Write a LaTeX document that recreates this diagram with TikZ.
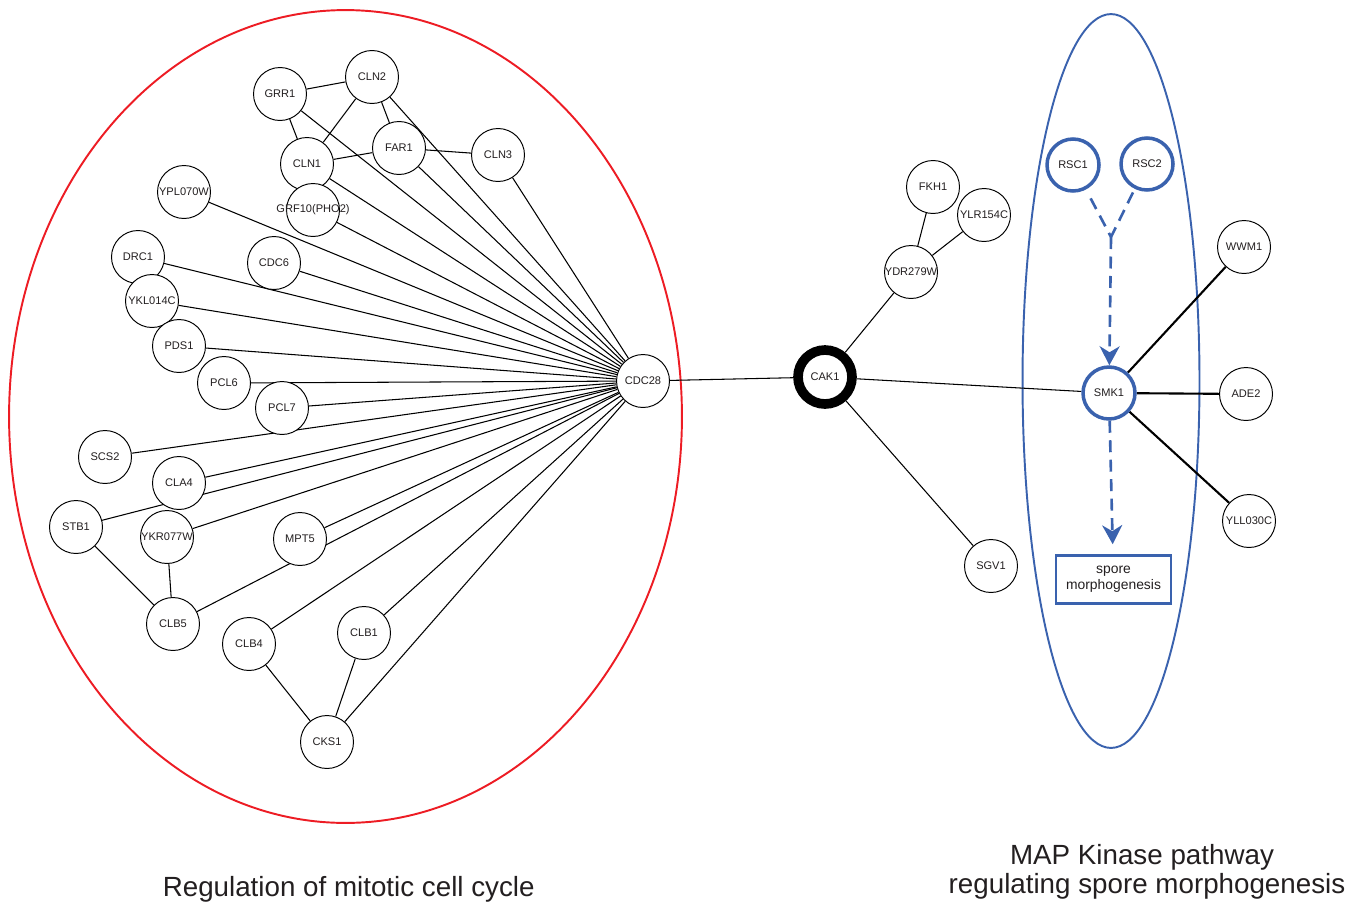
\documentclass[tikz,border=0pt]{standalone}
\usepackage{fontspec}
\setmainfont{Liberation Sans}
\usetikzlibrary{arrows.meta,backgrounds}
\definecolor{pathblue}{RGB}{58,98,174}
\definecolor{cycred}{RGB}{237,28,36}
\definecolor{labelgray}{RGB}{35,31,32}

\begin{document}
\begin{tikzpicture}[x=0.02cm, y=-0.02cm,
    protein/.style={circle, draw=black, fill=white, line width=0.55pt, minimum size=1.06cm, inner sep=0pt, text=labelgray, font=\fontsize{6.3}{7}\selectfont},
    kinase/.style={protein, draw=pathblue, line width=2pt, minimum size=1.04cm},
    link/.style={draw=black, line width=0.6pt},
    strong/.style={draw=black, line width=1.2pt},
    flow/.style={draw=pathblue, line width=1.5pt, dash pattern=on 0.24cm off 0.15cm},
    heading/.style={anchor=base, text=labelgray, font=\fontsize{15.8}{19}\selectfont}]
            \useasboundingbox (0,0) rectangle (1364,903);

            \node[protein] (GRR1) at (280,94) {GRR1};
            \node[protein] (CLN2) at (372,77) {CLN2};
            \node[protein] (FAR1) at (399,148) {FAR1};
            \node[protein] (CLN3) at (498,155) {CLN3};
            \node[protein] (CLN1) at (307,164) {CLN1};
            \node[protein] (GRF10) at (313,210) {\makebox[0pt]{GRF10(PHO2)}};
            \node[protein] (YPL070W) at (184,192) {YPL070W};
            \node[protein] (DRC1) at (138,257) {DRC1};
            \node[protein] (CDC6) at (274,263) {CDC6};
            \node[protein] (YKL014C) at (152,301) {YKL014C};
            \node[protein] (PDS1) at (179,346) {PDS1};
            \node[protein] (PCL6) at (224,383) {PCL6};
            \node[protein] (PCL7) at (282,408) {PCL7};
            \node[protein] (SCS2) at (105,457) {SCS2};
            \node[protein] (CLA4) at (179,483) {CLA4};
            \node[protein] (STB1) at (76,527) {STB1};
            \node[protein] (YKR077W) at (167,537) {YKR077W};
            \node[protein] (MPT5) at (300,539) {MPT5};
            \node[protein] (CLB5) at (173,624) {CLB5};
            \node[protein] (CLB4) at (249,644) {CLB4};
            \node[protein] (CLB1) at (364,633) {CLB1};
            \node[protein] (CKS1) at (327,742) {CKS1};
            \node[protein] (CDC28) at (643,381) {CDC28};

            \node[protein, line width=5.5pt, minimum size=1.08cm] (CAK1) at (825,377) {CAK1};
            \node[protein] (FKH1) at (933,187) {FKH1};
            \node[protein] (YLR154C) at (984,215) {YLR154C};
            \node[protein] (YDR279W) at (911,272) {YDR279W};
            \node[protein] (SGV1) at (991,566) {SGV1};

            \node[kinase] (RSC1) at (1073,165) {RSC1};
            \node[kinase] (RSC2) at (1147,164) {RSC2};
            \node[kinase] (SMK1) at (1109,393) {SMK1};
            \node[protein] (WWM1) at (1244,247) {WWM1};
            \node[protein] (ADE2) at (1246,394) {ADE2};
            \node[protein] (YLL030C) at (1249,521) {YLL030C};
            \node[draw=pathblue, line width=1.5pt, minimum width=2.3cm, minimum height=0.96cm, align=center, text=labelgray, font=\fontsize{7.9}{8.9}\selectfont] (spore) at (1113.5,579.5) {spore\\morphogenesis};
            \coordinate (junc) at (1111,237);

            \node[heading] (cycletitle) at (348.7,896) {Regulation of mitotic cell cycle};
            \node[heading] (maptitle) at (1142,864.3) {MAP Kinase pathway};
            \node[heading] (maptitle2) at (1147,893.3) {regulating spore morphogenesis};

            \begin{pgfonlayer}{background}
            \draw[draw=cycred, line width=1.1pt] (345.5,416.5) ellipse [x radius=6.73cm, y radius=8.13cm];
            \draw[draw=pathblue, line width=1.1pt] (1111,381) ellipse [x radius=1.77cm, y radius=7.34cm];

            \draw[link] (GRR1) -- (CLN2);
            \draw[link] (GRR1) -- (CLN1);
            \draw[link] (CLN2) -- (CLN1);
            \draw[link] (CLN2) -- (FAR1);
            \draw[link] (CLN1) -- (FAR1);
            \draw[link] (FAR1) -- (CLN3);
            \draw[link] (STB1) -- (CLB5);
            \draw[link] (YKR077W) -- (CLB5);
            \draw[link] (CLB4) -- (CKS1);
            \draw[link] (CLB1) -- (CKS1);

            \draw[link] (GRR1) -- (CDC28);
            \draw[link] (CLN2) -- (CDC28);
            \draw[link] (FAR1) -- (CDC28);
            \draw[link] (CLN3) -- (CDC28);
            \draw[link] (CLN1) -- (CDC28);
            \draw[link] (GRF10) -- (CDC28);
            \draw[link] (YPL070W) -- (CDC28);
            \draw[link] (DRC1) -- (CDC28);
            \draw[link] (CDC6) -- (CDC28);
            \draw[link] (YKL014C) -- (CDC28);
            \draw[link] (PDS1) -- (CDC28);
            \draw[link] (PCL6) -- (CDC28);
            \draw[link] (PCL7) -- (CDC28);
            \draw[link] (SCS2) -- (CDC28);
            \draw[link] (CLA4) -- (CDC28);
            \draw[link] (STB1) -- (CDC28);
            \draw[link] (YKR077W) -- (CDC28);
            \draw[link] (MPT5) -- (CDC28);
            \draw[link] (CLB5) -- (CDC28);
            \draw[link] (CLB4) -- (CDC28);
            \draw[link] (CLB1) -- (CDC28);
            \draw[link] (CKS1) -- (CDC28);

            \draw[link] (CDC28) -- (CAK1);
            \draw[link] (CAK1) -- (YDR279W);
            \draw[link] (YDR279W) -- (FKH1);
            \draw[link] (YDR279W) -- (YLR154C);
            \draw[link] (CAK1) -- (SGV1);
            \draw[link] (CAK1) -- (SMK1);

            \draw[strong] (SMK1) -- (WWM1);
            \draw[strong] (SMK1) -- (ADE2);
            \draw[strong] (SMK1) -- (YLL030C);
            \end{pgfonlayer}

            \draw[flow, shorten <=0.2cm] (RSC1) -- (junc);
            \draw[flow, shorten <=0.08cm] (RSC2) -- (junc);
            \draw[flow, -{Stealth[length=0.38cm, width=0.4cm, inset=0.12cm]}] (junc) -- (SMK1);
            \draw[flow, shorten >=0.2cm, -{Stealth[length=0.38cm, width=0.4cm, inset=0.12cm]}] (SMK1) -- (spore);
\end{tikzpicture}
\end{document}
